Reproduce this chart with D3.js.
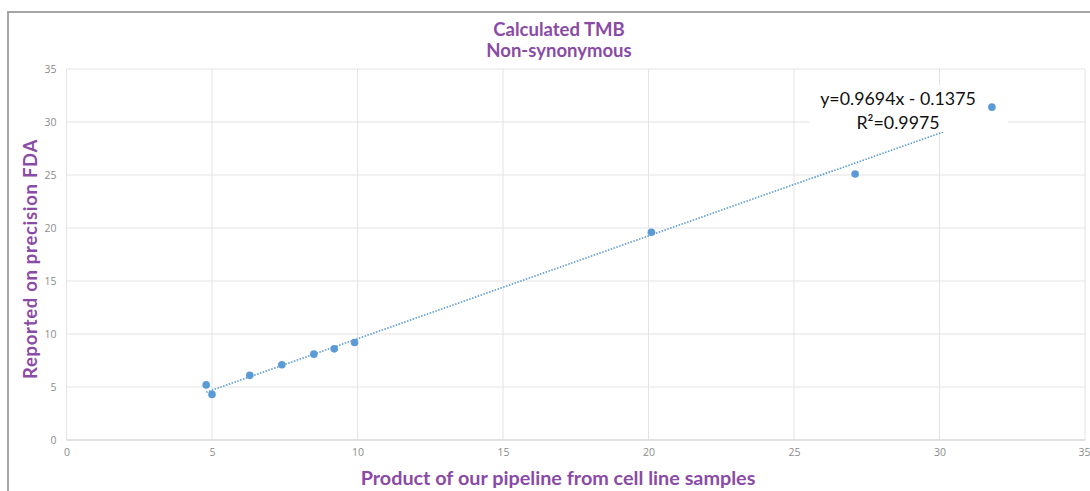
<!DOCTYPE html>
<html><head><meta charset="utf-8">
<script src="https://cdn.jsdelivr.net/npm/d3@7"></script>
<style>body{margin:0;background:#fff;} svg{display:block;}</style>
</head><body>
<svg id="c" width="1090" height="491"></svg>
<script>
const xValues = [4.8, 5.0, 6.3, 7.4, 8.5, 9.2, 9.9, 20.1, 27.1, 31.8];
const yValues = [5.2, 4.3, 6.1, 7.1, 8.1, 8.6, 9.2, 19.6, 25.1, 31.4];
const tickValues = [0, 5, 10, 15, 20, 25, 30, 35];
const slope = 0.9694, intercept = -0.1375;
const titleLines = ["Calculated TMB", "Non-synonymous"];
const eqLines = ["y=0.9694x - 0.1375", "R²=0.9975"];
const xTitle = "Product of our pipeline from cell line samples";
const yTitle = "Reported on precision FDA";

const svg = d3.select("#c");
const purple = "#8a4ba6";
const blue = "#5b9bd5";

// outer frame
svg.append("rect").attr("x", 8).attr("y", 12).attr("width", 1100).attr("height", 500)
  .attr("fill", "#fff").attr("stroke", "#a6a6a6").attr("stroke-width", 2);

const x = d3.scaleLinear().domain([0, 35]).range([66.5, 1085]);
const y = d3.scaleLinear().domain([0, 35]).range([440, 69]);

// grid
const g = svg.append("g");
g.selectAll(".gx").data(tickValues).join("line")
  .attr("x1", d => x(d)).attr("x2", d => x(d)).attr("y1", y(0)).attr("y2", y(35))
  .attr("stroke", "#e3e3e3").attr("stroke-width", 1);
g.selectAll(".gy").data(tickValues).join("line")
  .attr("y1", d => y(d)).attr("y2", d => y(d)).attr("x1", x(0)).attr("x2", x(35))
  .attr("stroke", "#e3e3e3").attr("stroke-width", 1);
g.append("line").attr("x1", x(0)).attr("x2", x(35)).attr("y1", y(0)).attr("y2", y(0))
  .attr("stroke", "#d0d0d0");

// axes labels
const xAxis = d3.axisBottom(x).tickValues(tickValues).tickSize(0).tickPadding(9);
const yAxis = d3.axisLeft(y).tickValues(tickValues).tickSize(0).tickPadding(10);
const ax = svg.append("g").attr("transform", `translate(0,${y(0)})`).call(xAxis);
const ay = svg.append("g").attr("transform", `translate(${x(0)},0)`).call(yAxis);
[ax, ay].forEach(a => {
  a.select(".domain").remove();
  a.selectAll("text").attr("fill", "#8c8c8c").attr("font-family", "Open Sans, sans-serif").attr("font-size", 10.5);
});
ax.selectAll("text").filter(d => d === 35).attr("text-anchor", "end").attr("dx", 5);

// trendline
const xMin = d3.min(xValues), xMax = d3.max(xValues);
svg.append("line")
  .attr("x1", x(xMin)).attr("y1", y(slope * xMin + intercept))
  .attr("x2", x(xMax)).attr("y2", y(slope * xMax + intercept))
  .attr("stroke", blue).attr("stroke-width", 1.6).attr("stroke-dasharray", "1.5,1.5");

// equation box
svg.append("rect").attr("x", 810).attr("y", 85).attr("width", 198).attr("height", 47).attr("fill", "#fff");
svg.selectAll(".eq").data(eqLines).join("text")
  .attr("x", 898).attr("y", (d, i) => 105 + i * 24).attr("text-anchor", "middle")
  .attr("font-family", "Lato, sans-serif").attr("font-size", 17.8).attr("fill", "#111")
  .text(d => d);

// points
svg.selectAll(".pt").data(xValues).join("circle")
  .attr("cx", d => x(d)).attr("cy", (d, i) => y(yValues[i])).attr("r", 3.8)
  .attr("fill", blue);

// title
svg.selectAll(".tt").data(titleLines).join("text")
  .attr("x", 559).attr("y", (d, i) => 36 + i * 20.5).attr("text-anchor", "middle")
  .attr("font-family", "Lato, sans-serif").attr("font-weight", "bold").attr("font-size", 18.5)
  .attr("fill", purple).text(d => d);

svg.append("text").attr("x", 558).attr("y", 485).attr("text-anchor", "middle")
  .attr("font-family", "Lato, sans-serif").attr("font-weight", "bold").attr("font-size", 19.8)
  .attr("fill", purple).text(xTitle);

svg.append("text").attr("transform", "translate(37,259) rotate(-90)").attr("text-anchor", "middle")
  .attr("font-family", "Lato, sans-serif").attr("font-weight", "bold").attr("font-size", 18.5)
  .attr("fill", purple).attr("letter-spacing", 0.7).text(yTitle);
</script>
</body></html>
